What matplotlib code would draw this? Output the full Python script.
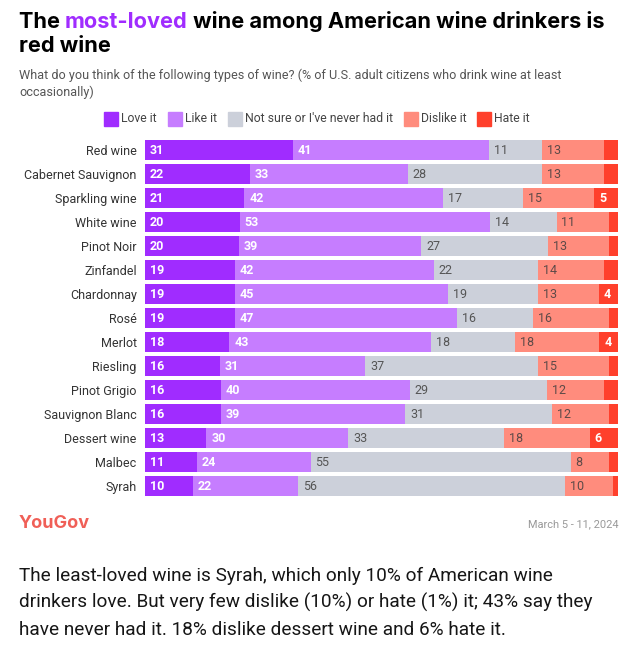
import numpy as np
import matplotlib.pyplot as plt
from matplotlib.patches import Rectangle

wines = ['Red wine', 'Cabernet Sauvignon', 'Sparkling wine', 'White wine', 'Pinot Noir',
         'Zinfandel', 'Chardonnay', 'Rosé', 'Merlot', 'Riesling', 'Pinot Grigio',
         'Sauvignon Blanc', 'Dessert wine', 'Malbec', 'Syrah']
love = [31, 22, 21, 20, 20, 19, 19, 19, 18, 16, 16, 16, 13, 11, 10]
like = [41, 33, 42, 53, 39, 42, 45, 47, 43, 31, 40, 39, 30, 24, 22]
not_sure = [11, 28, 17, 14, 27, 22, 19, 16, 18, 37, 29, 31, 33, 55, 56]
dislike = [13, 13, 15, 11, 13, 14, 13, 16, 18, 15, 12, 12, 18, 8, 10]
hate = [3, 3, 5, 2, 2, 3, 4, 2, 4, 2, 3, 2, 6, 2, 1]

series = [love, like, not_sure, dislike, hate]
names = ['Love it', 'Like it', "Not sure or I've never had it", 'Dislike it', 'Hate it']
colors = ['#a02cff', '#c67dff', '#ccd0da', '#ff8c7d', '#ff402c']
label_colors = ['white', 'white', '#555555', '#5e4a48', 'white']
label_weights = ['bold', 'bold', 'normal', 'normal', 'bold']

W, H = 634, 655
plt.rcParams['font.family'] = ['Roboto', 'DejaVu Sans']
fig = plt.figure(figsize=(W / 100, H / 100), dpi=100)
r = fig.canvas.get_renderer()


def fx(px):
    return px / W


def fy(py):
    return 1 - py / H


def width_of(t):
    return t.get_window_extent(renderer=r).width


def fit(t, target):
    # scale the font so the line is as wide as in the reference
    t.set_fontsize(t.get_fontsize() * target / width_of(t))


title_font = ['Inter', 'DejaVu Sans']

# title: measure full line first, then draw it in pieces for the purple word
probe = fig.text(0, 0, 'The most-loved wine among American wine drinkers is', fontsize=15,
                 fontweight='bold', family=title_font)
fit(probe, 602 - 19)
tsize = probe.get_fontsize()
probe.remove()

x = 19
for part, col in [('The ', 'black'), ('most-loved', '#a02cff'),
                  (' wine among American wine drinkers is', 'black')]:
    t = fig.text(fx(x), fy(28), part, fontsize=tsize, fontweight='bold', color=col,
                 family=title_font, va='baseline')
    x += width_of(t)
fig.text(fx(19), fy(52), 'red wine', fontsize=tsize, fontweight='bold',
         family=title_font, va='baseline')

sub = fig.text(fx(19), fy(79), 'What do you think of the following types of wine? (% of U.S. adult citizens who drink wine at least',
               fontsize=8.6, color='#555555', va='baseline')
fit(sub, 560 - 19)
fig.text(fx(19), fy(96), 'occasionally)', fontsize=sub.get_fontsize(), color='#555555', va='baseline')

# legend, centred on the figure
leg_texts = []
total = 0
for name in names:
    t = fig.text(0, fy(119), name, fontsize=8.8, color='#444444', va='center')
    leg_texts.append(t)
    total += 14 + 3 + width_of(t)
total += 11 * (len(names) - 1)
lx = (W - total) / 2
for t, col in zip(leg_texts, colors):
    fig.patches.append(Rectangle((fx(lx), fy(126)), 14 / W, 14 / H, color=col,
                                 transform=fig.transFigure, figure=fig))
    t.set_x(fx(lx + 17))
    lx += 17 + width_of(t) + 11

# bars
ax = fig.add_axes([fx(145), fy(498), 473 / W, 360 / H])
y = np.arange(len(wines))
totals = np.sum(series, axis=0)
left = np.zeros(len(wines))
for vals, col, lc, lw in zip(series, colors, label_colors, label_weights):
    share = np.array(vals) / totals * 100
    ax.barh(y, share, left=left, height=0.83, color=col)
    for i, v in enumerate(vals):
        if col == colors[4] and v < 4:
            continue
        ax.text(left[i] + 1.05, y[i], str(v), color=lc, fontweight=lw,
                fontsize=9, va='center', ha='left')
    left += share

ax.set_xlim(0, 100)
ax.set_ylim(len(wines) - 0.5, -0.5)
ax.set_yticks(y)
ax.set_yticklabels(wines, fontsize=9, color='#333333')
ax.tick_params(axis='y', length=0, pad=6)
ax.set_xticks([])
for s in ax.spines.values():
    s.set_visible(False)

# footer
logo = fig.text(fx(19), fy(524), 'YouGov', fontsize=13.5, color='#f05f57', fontweight='bold',
                va='center', family=title_font)
fit(logo, 90 - 19)
date = fig.text(fx(619), fy(524), 'March 5 - 11, 2024', fontsize=7.5, color='#999999',
                ha='right', va='center')
fit(date, 619 - 528)

para = ['The least-loved wine is Syrah, which only 10% of American wine',
        'drinkers love. But very few dislike (10%) or hate (1%) it; 43% say they',
        'have never had it. 18% dislike dessert wine and 6% hate it.']
first = fig.text(fx(19), fy(581), para[0], fontsize=12.5, color='#161616', va='baseline')
fit(first, 552 - 19)
for i, line in enumerate(para[1:], start=1):
    fig.text(fx(19), fy(581 + 27 * i), line, fontsize=first.get_fontsize(), color='#161616',
             va='baseline')

fig.savefig('out.png', dpi=100)
